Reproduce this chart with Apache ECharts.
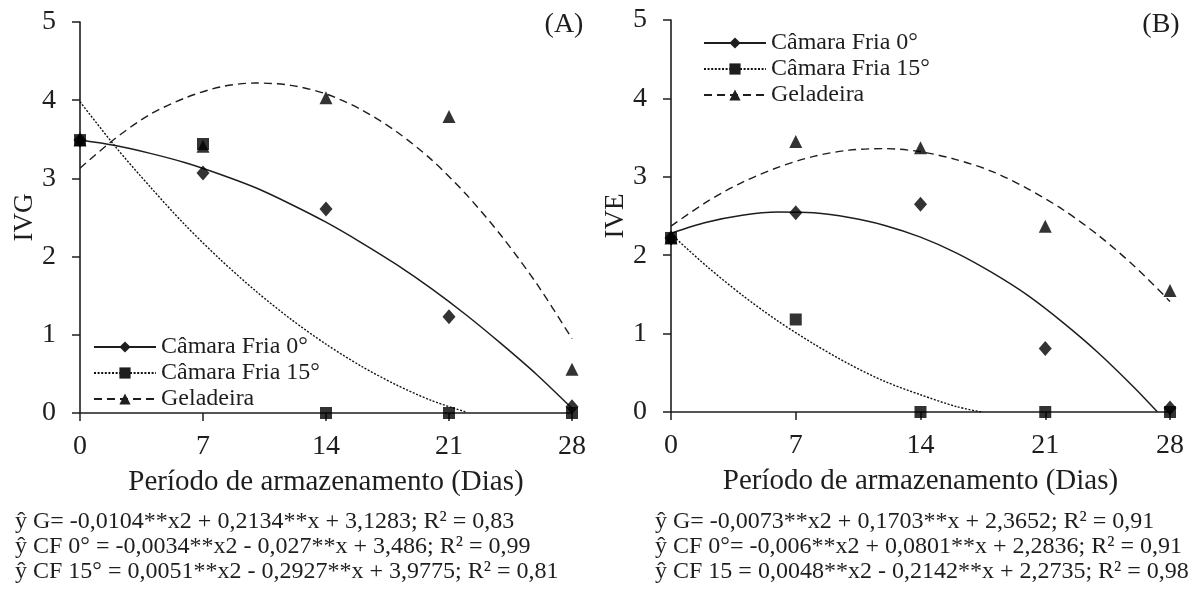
<!DOCTYPE html>
<html>
<head>
<meta charset="utf-8">
<script src="https://cdn.jsdelivr.net/npm/echarts@6/dist/echarts.min.js"></script>
<style>
  html, body { margin: 0; padding: 0; background: #fff; }
  #chart { width: 1203px; height: 596px; }
</style>
</head>
<body>
<div id="chart"></div>
<script>
// dias de armazenamento
var days = [0, 7, 14, 21, 28];
var names = ['Câmara Fria 0°', 'Câmara Fria 15°', 'Geladeira'];

// (A) IVG - pontos observados
var ivgCF0 = [3.49, 3.07, 2.61, 1.23, 0.08];
var ivgCF15 = [3.49, 3.44, 0, 0, 0];
var ivgGel = [3.49, 3.41, 4.03, 3.79, 0.56];

// (B) IVE - pontos observados
var iveCF0 = [2.22, 2.54, 2.65, 0.81, 0.05];
var iveCF15 = [2.22, 1.18, 0, 0, 0];
var iveGel = [2.22, 3.45, 3.37, 2.37, 1.55];

// curvas ajustadas
var fitX = [0, 2, 4, 6, 8, 10, 12, 14, 16, 18, 20, 22, 24, 26, 28];
var fitIvgGel = [3.13, 3.51, 3.82, 4.03, 4.17, 4.22, 4.19, 4.08, 3.88, 3.60, 3.24, 2.79, 2.26, 1.65, 0.95];
var fitIvgCF0 = [3.49, 3.42, 3.32, 3.20, 3.05, 2.88, 2.67, 2.44, 2.18, 1.90, 1.59, 1.25, 0.88, 0.49, 0.06];
var fitIvgCF15X = [0, 2, 4, 6, 8, 10, 12, 14, 16, 18, 20, 22];
var fitIvgCF15 = [3.98, 3.41, 2.89, 2.40, 1.96, 1.56, 1.20, 0.88, 0.60, 0.36, 0.16, 0.01];

var fitIveGel = [2.37, 2.68, 2.93, 3.12, 3.26, 3.34, 3.36, 3.32, 3.22, 3.07, 2.85, 2.58, 2.25, 1.86, 1.41];
var fitIveCF0X = [0, 2, 4, 6, 8, 10, 12, 14, 16, 18, 20, 22, 24, 26, 27.3];
var fitIveCF0 = [2.28, 2.42, 2.51, 2.55, 2.54, 2.48, 2.38, 2.23, 2.03, 1.78, 1.49, 1.14, 0.75, 0.31, 0];
var fitIveCF15X = [0, 2, 4, 6, 8, 10, 12, 14, 16, 17.4];
var fitIveCF15 = [2.27, 1.86, 1.49, 1.16, 0.87, 0.61, 0.39, 0.22, 0.07, 0];

var yTicks = [0, 1, 2, 3, 4, 5];

var eqA = [
  'ŷ G= -0,0104**x2 + 0,2134**x + 3,1283; R² = 0,83',
  'ŷ CF 0° = -0,0034**x2 - 0,027**x + 3,486; R² = 0,99',
  'ŷ CF 15° = 0,0051**x2 - 0,2927**x + 3,9775; R² = 0,81'
];
var eqB = [
  'ŷ G= -0,0073**x2 + 0,1703**x + 2,3652; R² = 0,91',
  'ŷ CF 0°= -0,006**x2 + 0,0801**x + 2,2836; R² = 0,91',
  'ŷ CF 15 = 0,0048**x2 - 0,2142**x + 2,2735; R² = 0,98'
];

var FONT = '"Liberation Serif", "Times New Roman", serif';
var INK = '#1e1e1e';

function pairs(xs, ys) {
  return xs.map(function (x, i) { return [x, ys[i]]; });
}

var lineStyles = [
  { color: INK, width: 1.5, type: 'solid' },
  { color: '#111', width: 1.4, type: [2, 1.6] },
  { color: INK, width: 1.4, type: [8, 5] }
];
var symbols = ['diamond', 'rect', 'triangle'];
var symSizes = [[13, 15], 12, 13];

function curve(name, idx, k, data) {
  return {
    name: name, type: 'line', xAxisIndex: idx, yAxisIndex: idx,
    data: data, smooth: 0.3, showSymbol: false, symbol: symbols[k],
    lineStyle: lineStyles[k], itemStyle: { color: INK }, z: 2, silent: true
  };
}
function points(idx, k, ys) {
  return {
    name: 'pts' + idx + k, type: 'scatter', xAxisIndex: idx, yAxisIndex: idx,
    data: pairs(days, ys), symbol: symbols[k], symbolSize: symSizes[k],
    itemStyle: { color: '#000' }, z: 3 + k
  };
}

function xAx(idx) {
  return {
    type: 'value', gridIndex: idx, min: 0, max: 28, interval: 7,
    name: 'Período de armazenamento (Dias)', nameLocation: 'middle', nameGap: 55,
    nameTextStyle: { fontFamily: FONT, fontSize: 29, color: INK },
    axisLine: { show: true, lineStyle: { color: INK, width: 1.6 } },
    axisTick: { show: true, length: 8, lineStyle: { color: INK, width: 1.5 } },
    axisLabel: { fontFamily: FONT, fontSize: 28, color: INK, margin: 20 },
    splitLine: { show: false }
  };
}
function yAx(idx, name, gap) {
  return {
    type: 'value', gridIndex: idx, min: yTicks[0], max: yTicks[yTicks.length - 1], interval: 1,
    name: name, nameLocation: 'middle', nameGap: gap, nameRotate: 90,
    nameTextStyle: { fontFamily: FONT, fontSize: 27, color: INK },
    axisLine: { show: true, lineStyle: { color: INK, width: 1.6 } },
    axisTick: { show: true, length: 8, lineStyle: { color: INK, width: 1.5 } },
    axisLabel: { fontFamily: FONT, fontSize: 28, color: INK, margin: 24 },
    splitLine: { show: false }
  };
}
function legendAt(left, top) {
  return {
    orient: 'vertical', left: left, top: top, data: names,
    itemWidth: 62, itemHeight: 14, itemGap: 0, selectedMode: false,
    textStyle: { fontFamily: FONT, fontSize: 24, color: INK, lineHeight: 26 }
  };
}
function eqTexts(x, lines) {
  return lines.map(function (t, i) {
    return {
      type: 'text', x: x, y: 522 + i * 25,
      style: { text: t, font: '24px ' + FONT, fill: INK, verticalAlign: 'middle' }
    };
  });
}

var chart = echarts.init(document.getElementById('chart'));
chart.setOption({
  animation: false,
  backgroundColor: '#fff',
  grid: [
    { left: 80, top: 22, width: 492, height: 391 },
    { left: 671, top: 20, width: 499, height: 392 }
  ],
  xAxis: [xAx(0), xAx(1)],
  yAxis: [yAx(0, 'IVG', 40), yAx(1, 'IVE', 36)],
  legend: [legendAt(88, 329), legendAt(698, 25)],
  graphic: [
    { type: 'text', x: 564, y: 25, style: { text: '(A)', font: '28px ' + FONT, fill: INK, align: 'center', verticalAlign: 'middle' } },
    { type: 'text', x: 1161, y: 25, style: { text: '(B)', font: '28px ' + FONT, fill: INK, align: 'center', verticalAlign: 'middle' } }
  ].concat(eqTexts(15, eqA), eqTexts(655, eqB)),
  series: [
    curve(names[0], 0, 0, pairs(fitX, fitIvgCF0)),
    curve(names[1], 0, 1, pairs(fitIvgCF15X, fitIvgCF15)),
    curve(names[2], 0, 2, pairs(fitX, fitIvgGel)),
    points(0, 2, ivgGel),
    points(0, 0, ivgCF0),
    points(0, 1, ivgCF15),
    curve(names[0], 1, 0, pairs(fitIveCF0X, fitIveCF0)),
    curve(names[1], 1, 1, pairs(fitIveCF15X, fitIveCF15)),
    curve(names[2], 1, 2, pairs(fitX, fitIveGel)),
    points(1, 2, iveGel),
    points(1, 0, iveCF0),
    points(1, 1, iveCF15)
  ]
});
</script>
</body>
</html>
